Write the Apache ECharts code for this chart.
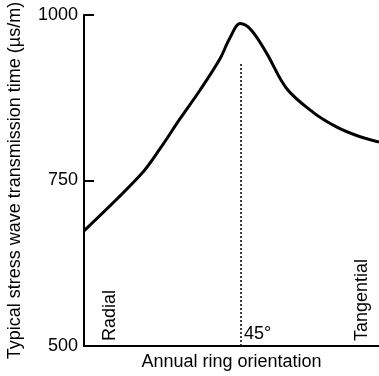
<!DOCTYPE html>
<html lang="en">
<head>
    <meta charset="UTF-8">
    <title>Stress wave chart</title>
    <script src="https://cdnjs.cloudflare.com/ajax/libs/echarts/6.0.0/echarts.min.js"></script>
    <style>
        html, body { margin: 0; padding: 0; background: #fff; }
    </style>
</head>
<body>
    <div id="main" style="width: 379px; height: 376px;"></div>
    <script>
        // annual ring angle (deg) and transmission time (us/m)
        const angles = [0, 16.3, 21.8, 27.5, 33.2, 39, 41.8, 44.8, 48, 52.4, 58.1, 65.7, 72.4, 78.2, 84.6];
        const times = [674, 759, 798, 843, 886, 934, 965, 987, 977, 942, 889, 853, 831, 818, 808];
        const yTicks = [500, 750, 1000];
        // text notes placed on the axes
        const notes = [
            { x: 7.5, y: 500, text: 'Radial', rotate: 90 },
            { x: 45, y: 500, text: '45°', rotate: 0 },
            { x: 79.7, y: 500, text: 'Tangential', rotate: 90 }
        ];
        const peakLineTop = 929;

        const chart = echarts.init(document.getElementById('main'));
        const font = 'Liberation Sans, Arial, sans-serif';

        const option = {
            animation: false,
            grid: { left: 84, right: 0, top: 15, bottom: 30, outerBoundsMode: 'none' },
            xAxis: {
                type: 'value',
                min: 0,
                max: 84.6,
                name: 'Annual ring orientation',
                nameLocation: 'middle',
                nameGap: 7,
                nameTextStyle: { fontFamily: font, fontSize: 18, color: '#000' },
                axisLine: { lineStyle: { color: '#000', width: 2 } },
                axisTick: { show: false },
                axisLabel: { show: false },
                splitLine: { show: false }
            },
            yAxis: {
                type: 'value',
                min: yTicks[0],
                max: yTicks[yTicks.length - 1],
                interval: 250,
                name: 'Typical stress wave transmission time (µs/m)',
                nameLocation: 'middle',
                nameGap: 60,
                nameTextStyle: { fontFamily: font, fontSize: 18, color: '#000' },
                axisLine: { show: true, lineStyle: { color: '#000', width: 2 } },
                axisTick: { show: true, inside: true, length: 10, lineStyle: { color: '#000', width: 2 } },
                axisLabel: { fontFamily: font, fontSize: 18, color: '#000', margin: 6, formatter: v => String(v) },
                splitLine: { show: false }
            },
            series: [
                {
                    type: 'line',
                    data: angles.map((a, i) => [a, times[i]]),
                    smooth: 0.35,
                    symbol: 'none',
                    lineStyle: { color: '#000', width: 3 },
                    markLine: {
                        silent: true,
                        symbol: 'none',
                        label: { show: false },
                        lineStyle: { color: '#000', type: [2, 2], width: 1.5 },
                        data: [[{ coord: [45, 500] }, { coord: [45, peakLineTop] }]]
                    }
                },
                {
                    type: 'scatter',
                    symbolSize: 0,
                    silent: true,
                    itemStyle: { opacity: 1 },
                    data: notes.map(n => ({
                        value: [n.x, n.y],
                        label: {
                            show: true,
                            formatter: n.text,
                            rotate: n.rotate,
                            position: 'inside',
                            align: 'left',
                            verticalAlign: 'middle',
                            offset: n.rotate ? [5, 0] : [3, -12],
                            fontFamily: font,
                            fontSize: 18,
                            color: '#000',
                            opacity: 1
                        }
                    }))
                }
            ]
        };

        chart.setOption(option);
    </script>
</body>
</html>
